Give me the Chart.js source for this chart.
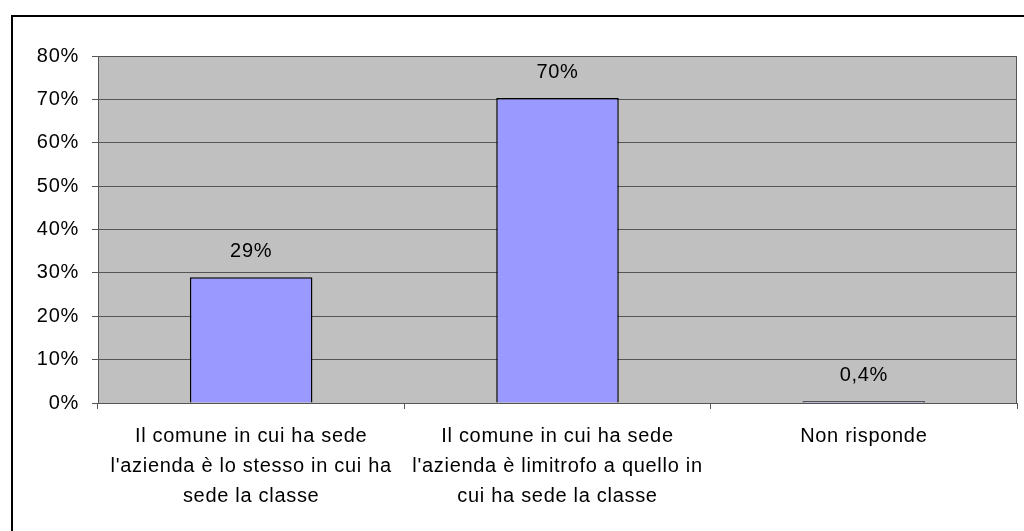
<!DOCTYPE html>
<html>
<head>
<meta charset="utf-8">
<script src="https://cdn.jsdelivr.net/npm/chart.js@4/dist/chart.umd.min.js"></script>
<style>
  html, body { margin: 0; padding: 0; background: #fff; }
  canvas { display: block; }
</style>
</head>
<body>
<canvas id="chart" width="1024" height="531"></canvas>
<script>
const categories = [
  ['Il comune in cui ha sede', "l'azienda è lo stesso in cui ha", 'sede la classe'],
  ['Il comune in cui ha sede', "l'azienda è limitrofo a quello in", 'cui ha sede la classe'],
  ['Non risponde']
];
const values = [29, 70.3, 0.4];
const valueLabels = ['29%', '70%', '0,4%'];
const tickLabels = ['0%', '10%', '20%', '30%', '40%', '50%', '60%', '70%', '80%'];

document.addEventListener('DOMContentLoaded', function () {
  Chart.defaults.font.family = "'Liberation Sans', Arial, sans-serif";
  Chart.defaults.font.size = 20;
  Chart.defaults.color = '#000';

  // Excel-ish wide text
  const spacing = {
    id: 'spacing',
    beforeLayout(chart) { chart.ctx.letterSpacing = '0.7px'; },
    beforeDraw(chart) { chart.ctx.letterSpacing = '0.7px'; }
  };

  const frame = {
    id: 'frame',
    beforeDraw(chart) {
      const { ctx, chartArea: a } = chart;
      ctx.save();
      ctx.fillStyle = '#fff';
      ctx.fillRect(0, 0, chart.width, chart.height);
      ctx.strokeStyle = '#000';
      ctx.lineWidth = 2;
      ctx.strokeRect(12, 16, 1100, 600);
      ctx.fillStyle = '#C0C0C0';
      ctx.fillRect(a.left, a.top, a.right - a.left, a.bottom - a.top);
      ctx.restore();
    },
    afterDraw(chart) {
      const { ctx, chartArea: a } = chart;
      ctx.save();
      ctx.strokeStyle = '#555';
      ctx.lineWidth = 1;
      ctx.beginPath();
      ctx.moveTo(Math.round(a.right) - 0.5, a.top);
      ctx.lineTo(Math.round(a.right) - 0.5, a.bottom);
      ctx.stroke();
      ctx.restore();
    }
  };

  const barLabels = {
    id: 'barLabels',
    afterDatasetsDraw(chart) {
      const { ctx } = chart;
      const meta = chart.getDatasetMeta(0);
      ctx.save();
      ctx.letterSpacing = '0.7px';
      ctx.font = "20px 'Liberation Sans', Arial, sans-serif";
      ctx.fillStyle = '#000';
      ctx.textAlign = 'center';
      ctx.textBaseline = 'middle';
      meta.data.forEach((bar, i) => {
        ctx.fillText(valueLabels[i], bar.x, bar.y - 26);
      });
      ctx.restore();
    }
  };

  const ctx = document.getElementById('chart').getContext('2d');
  new Chart(ctx, {
    type: 'bar',
    data: {
      labels: categories,
      datasets: [{
        data: values,
        backgroundColor: '#9999FF',
        borderColor: '#000',
        borderWidth: 1.5,
        barPercentage: 0.4,
        categoryPercentage: 1
      }]
    },
    options: {
      responsive: false,
      animation: false,
      layout: { padding: { top: 56, right: 7, left: 0, bottom: 0 } },
      plugins: {
        legend: { display: false },
        tooltip: { enabled: false }
      },
      scales: {
        x: {
          afterFit(scale) { scale.height = 128; },
          grid: {
            offset: true,
            drawOnChartArea: false,
            drawTicks: true,
            tickLength: 6,
            color: '#555'
          },
          border: { color: '#555' },
          ticks: {
            padding: 12,
            maxRotation: 0,
            autoSkip: false,
            font: { size: 20, lineHeight: 1.5 }
          }
        },
        y: {
          min: 0,
          max: 80,
          afterFit(scale) { scale.width = 98; },
          grid: {
            color: '#555',
            lineWidth: 1,
            drawTicks: true,
            tickLength: 6
          },
          border: { color: '#555' },
          ticks: {
            stepSize: 10,
            padding: 13,
            callback: function (v) { return tickLabels[v / 10]; }
          }
        }
      }
    },
    plugins: [spacing, frame, barLabels]
  });
});
</script>
</body>
</html>
